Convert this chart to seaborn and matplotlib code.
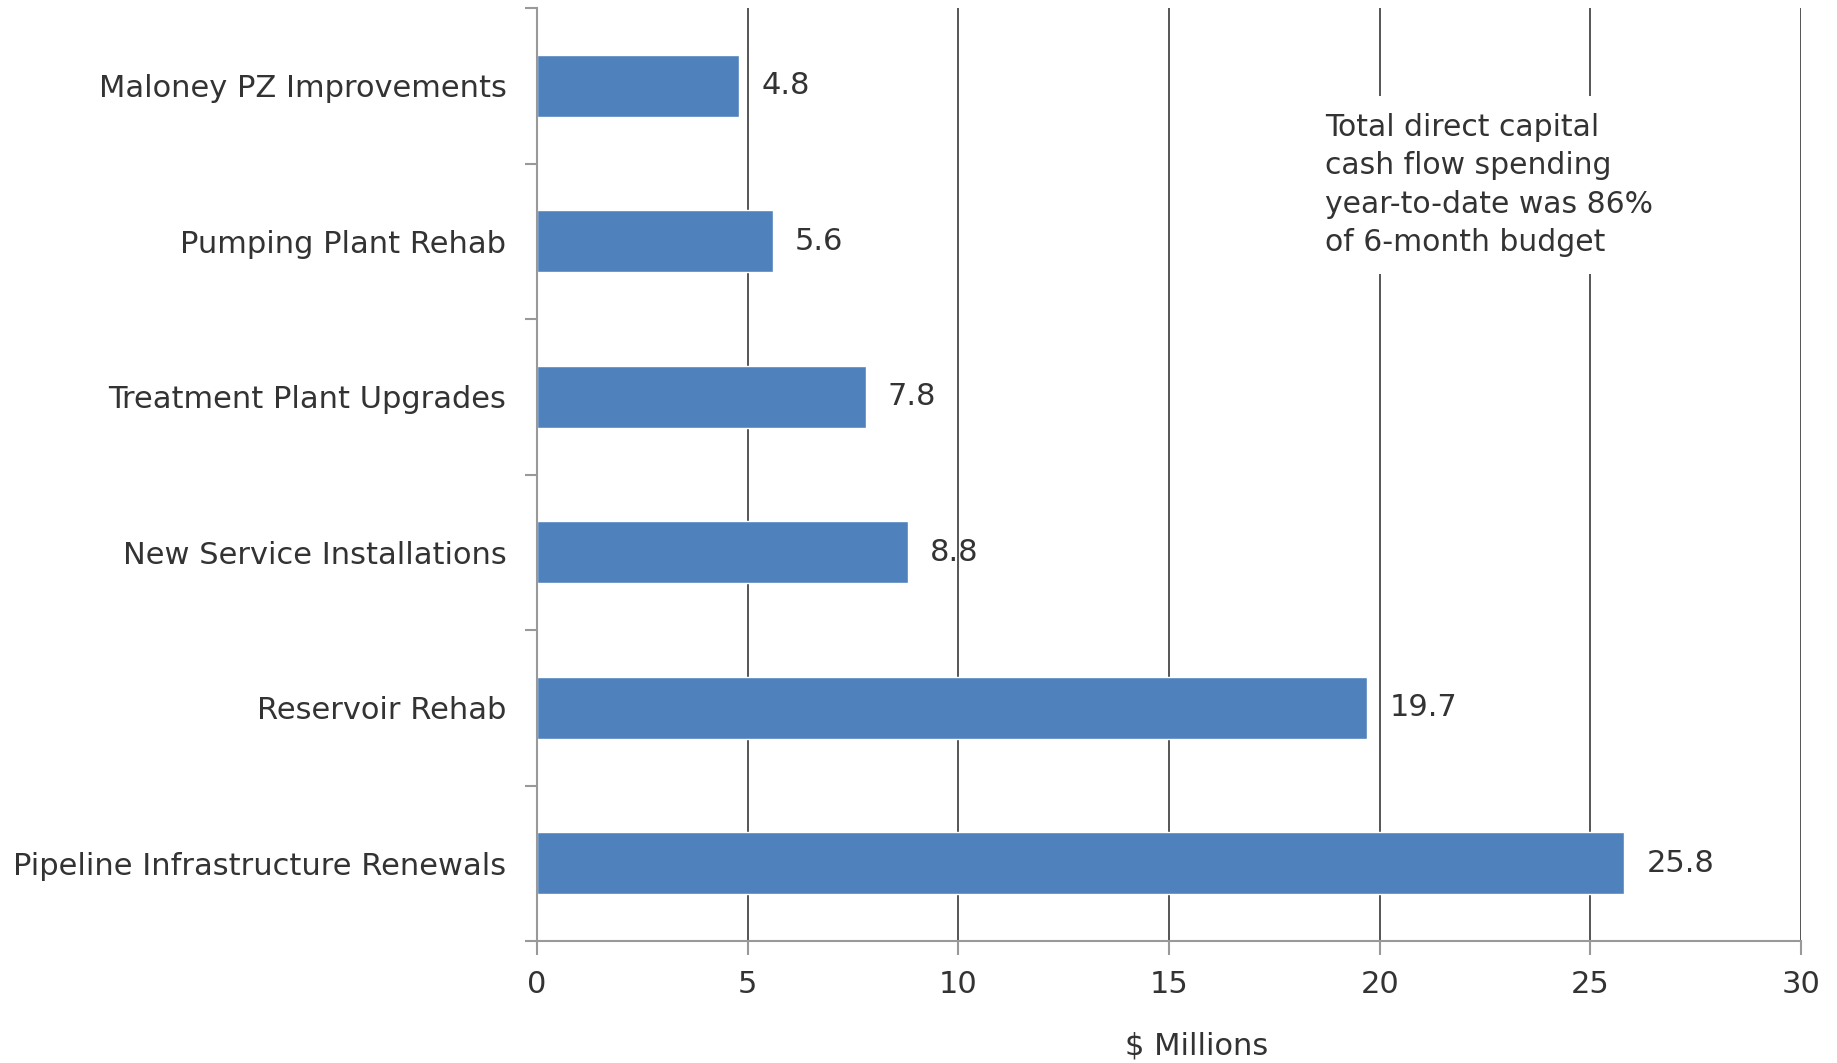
import matplotlib
matplotlib.use("Agg")
import matplotlib.pyplot as plt
import seaborn as sns
import pandas as pd
from matplotlib.ticker import FixedLocator

# Capital spending by project, $ millions
projects = [
    "Maloney PZ Improvements",
    "Pumping Plant Rehab",
    "Treatment Plant Upgrades",
    "New Service Installations",
    "Reservoir Rehab",
    "Pipeline Infrastructure Renewals",
]
spend = [4.8, 5.6, 7.8, 8.8, 19.7, 25.8]
x_ticks = [0, 5, 10, 15, 20, 25, 30]
note = "Total direct capital\ncash flow spending\nyear-to-date was 86%\nof 6-month budget"

sns.set_style("white")
plt.rcParams["font.family"] = ["DejaVu Sans"]

TEXT = "#333333"
AXIS = "#999999"
FS = 22

fig = plt.figure(figsize=(18.37, 10.63), dpi=100)
ax = fig.add_axes([537 / 1837, 1 - 941 / 1063, (1801 - 537) / 1837, (941 - 8) / 1063])

df = pd.DataFrame({"project": projects, "spend": spend})
sns.barplot(data=df, y="project", x="spend", orient="h", color="#4F81BD",
            saturation=1, width=0.4, ax=ax)

for c in ax.containers:
    ax.bar_label(c, fmt="%.1f", padding=16, fontsize=FS, color=TEXT)

ax.set_xlim(0, 30)
ax.set_ylim(5.5, -0.5)
ax.set_xticks(x_ticks)
ax.set_xlabel("")
ax.set_ylabel("")

ax.set_axisbelow(True)
ax.xaxis.grid(True, color="#555555", lw=1.4)
ax.yaxis.grid(False)

for side in ("top", "right"):
    ax.spines[side].set_visible(False)
for side in ("left", "bottom"):
    ax.spines[side].set_color(AXIS)
    ax.spines[side].set_linewidth(1.5)

ax.tick_params(axis="x", bottom=True, direction="out", length=10, width=1.5,
               color=AXIS, labelsize=FS, labelcolor=TEXT, pad=11)
ax.tick_params(axis="y", which="major", left=False, length=0,
               labelsize=FS, labelcolor=TEXT, pad=22)
ax.yaxis.set_minor_locator(FixedLocator([i - 0.5 for i in range(len(projects) + 1)]))
ax.tick_params(axis="y", which="minor", left=True, direction="out", length=9,
               width=1.5, color=AXIS)

fig.text(1197 / 1837, 1 - 1046 / 1063, "$ Millions", ha="center", va="center",
         fontsize=FS, color=TEXT)

fig.text(1325 / 1837, 1 - 113 / 1063, note, ha="left", va="top",
         fontsize=21.5, color=TEXT, linespacing=1.41,
         bbox=dict(facecolor="white", edgecolor="none", pad=12))

fig.savefig("out.png", dpi=100, facecolor="white")
